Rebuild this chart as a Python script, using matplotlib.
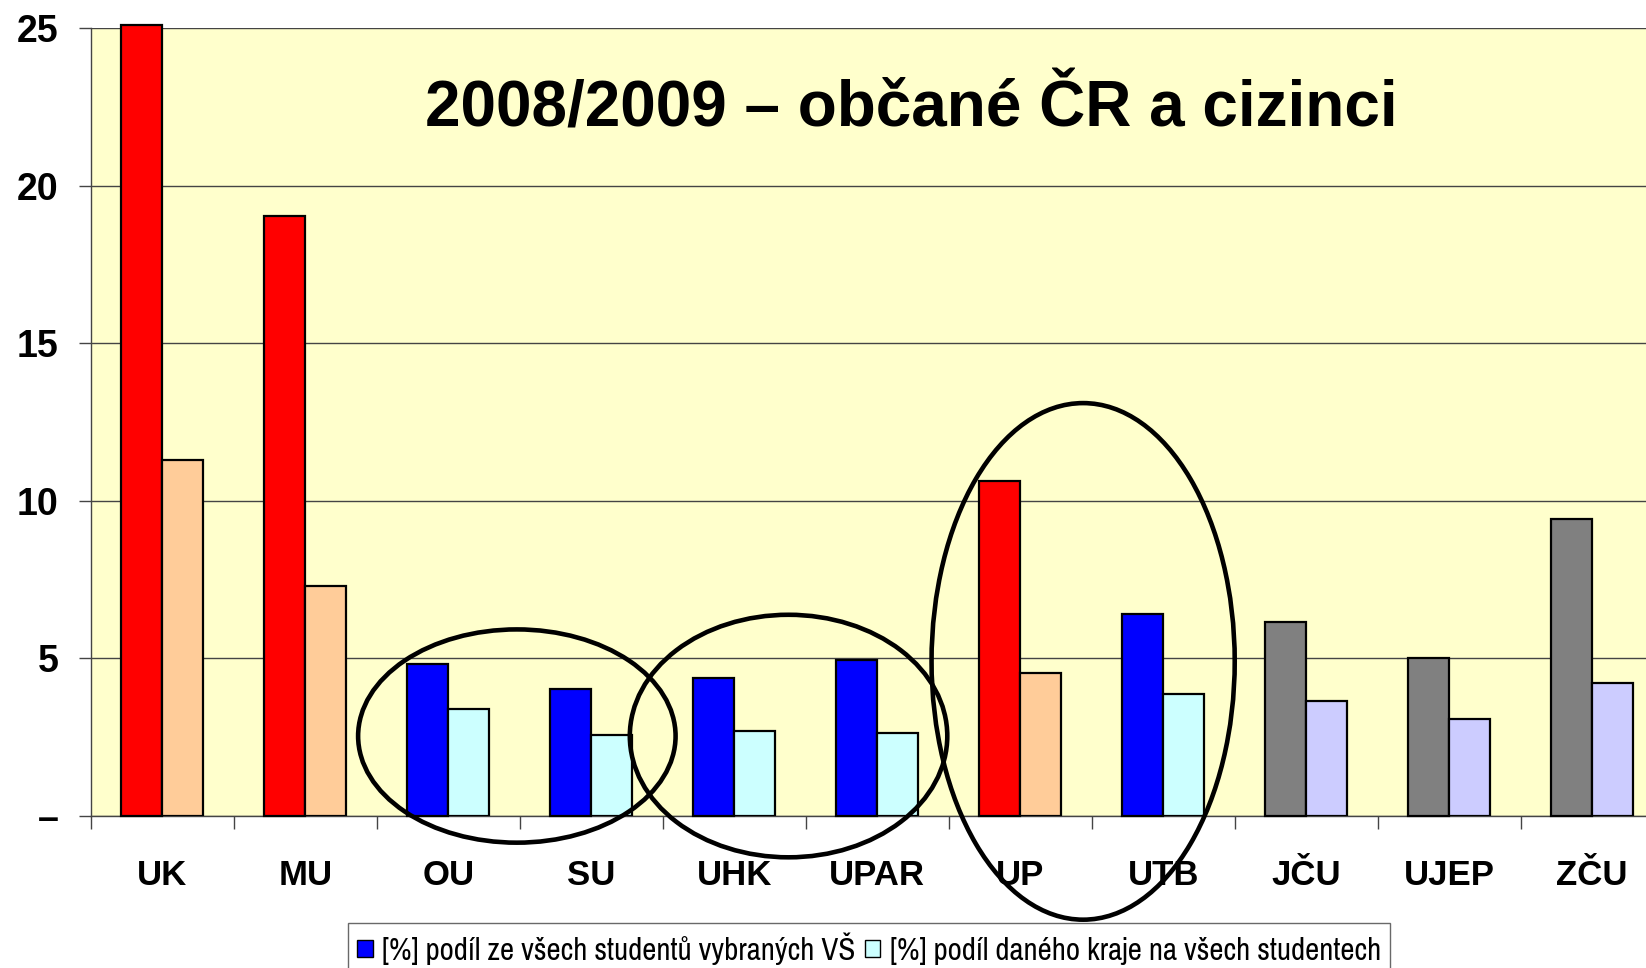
import matplotlib.pyplot as plt
import numpy as np
from matplotlib.patches import Ellipse, Patch
from matplotlib import font_manager

# data
schools = ['UK', 'MU', 'OU', 'SU', 'UHK', 'UPAR', 'UP', 'UTB', 'JČU', 'UJEP', 'ZČU']
podil_vs = [25.1, 19.03, 4.83, 4.03, 4.37, 4.93, 10.63, 6.4, 6.15, 5.0, 9.42]
podil_kraj = [11.3, 7.3, 3.4, 2.57, 2.7, 2.63, 4.53, 3.87, 3.65, 3.08, 4.22]
groups = ['red', 'red', 'blue', 'blue', 'blue', 'blue', 'red', 'blue', 'gray', 'gray', 'gray']
y_ticks = [0, 5, 10, 15, 20, 25]
y_labels = ['–', '5', '10', '15', '20', '25']

dark = {'red': '#FF0000', 'blue': '#0000FF', 'gray': '#808080'}
light = {'red': '#FFCC99', 'blue': '#CCFFFF', 'gray': '#CCCCFF'}

plt.rcParams['font.family'] = ['Liberation Sans', 'DejaVu Sans']

# a condensed face for the legend, if one is installed
narrow = [f.name for f in font_manager.fontManager.ttflist
          if 'Narrow' in f.name or 'Condensed' in f.name]
leg_font = narrow[0] if narrow else 'Liberation Sans'

fig = plt.figure(figsize=(16.46, 9.68), dpi=100)
ax = fig.add_axes([0.0551, 0.1573, 1 - 0.0551, 0.8135])
ax.set_facecolor('#FFFFCC')

x = np.arange(len(schools))
w = 0.285
ax.bar(x - w / 2, podil_vs, w, color=[dark[g] for g in groups],
       edgecolor='black', linewidth=1.6, zorder=3, clip_on=False)
ax.bar(x + w / 2, podil_kraj, w, color=[light[g] for g in groups],
       edgecolor='black', linewidth=1.6, zorder=3)

ax.set_xlim(-0.5, 10.376)
ax.set_ylim(0, 25)

ax.set_yticks(y_ticks)
ax.set_yticklabels(y_labels, fontsize=27, fontweight='bold')
ax.set_xticks(x)
ax.set_xticklabels(schools, fontsize=25, fontweight='bold')
ax.set_xticks(np.arange(-0.5, 10.5, 1), minor=True)
ax.tick_params(axis='x', which='major', length=0, pad=31)
ax.tick_params(axis='x', which='minor', length=9, width=1, color='#444444')
ax.tick_params(axis='y', length=9, width=1, color='#444444', pad=14)

ax.grid(axis='y', color='#444444', linewidth=1, zorder=0)
for s in ['top', 'right']:
    ax.spines[s].set_visible(False)
for s in ['left', 'bottom']:
    ax.spines[s].set_color('#444444')
    ax.spines[s].set_linewidth(1)

# circled groups
for cx, cy, ew, eh in [(2.48, 2.53, 2.22, 6.77), (4.38, 2.53, 2.22, 7.7), (6.44, 4.9, 2.12, 16.4)]:
    ax.add_patch(Ellipse((cx, cy), ew, eh, fill=False, edgecolor='black',
                         linewidth=3.3, zorder=5, clip_on=False))

ax.text(0.5275, 0.897, '2008/2009 – občané ČR a cizinci', transform=ax.transAxes,
        ha='center', va='center', fontsize=46, fontweight='bold')

handles = [Patch(facecolor='#0000FF', edgecolor='black'),
           Patch(facecolor='#CCFFFF', edgecolor='black')]
fig.legend(handles, ['[%] podíl ze všech studentů vybraných VŠ',
                     '[%] podíl daného kraje na všech studentech'],
           loc='lower center', bbox_to_anchor=(0.528, -0.022), ncol=2,
           frameon=True, fancybox=False, edgecolor='#444444',
           prop={'family': [leg_font, 'DejaVu Sans'], 'size': 22.3},
           handlelength=0.5, handleheight=0.5, handletextpad=0.3,
           columnspacing=0.3, borderpad=0.3)

fig.savefig('out.png', dpi=100)
